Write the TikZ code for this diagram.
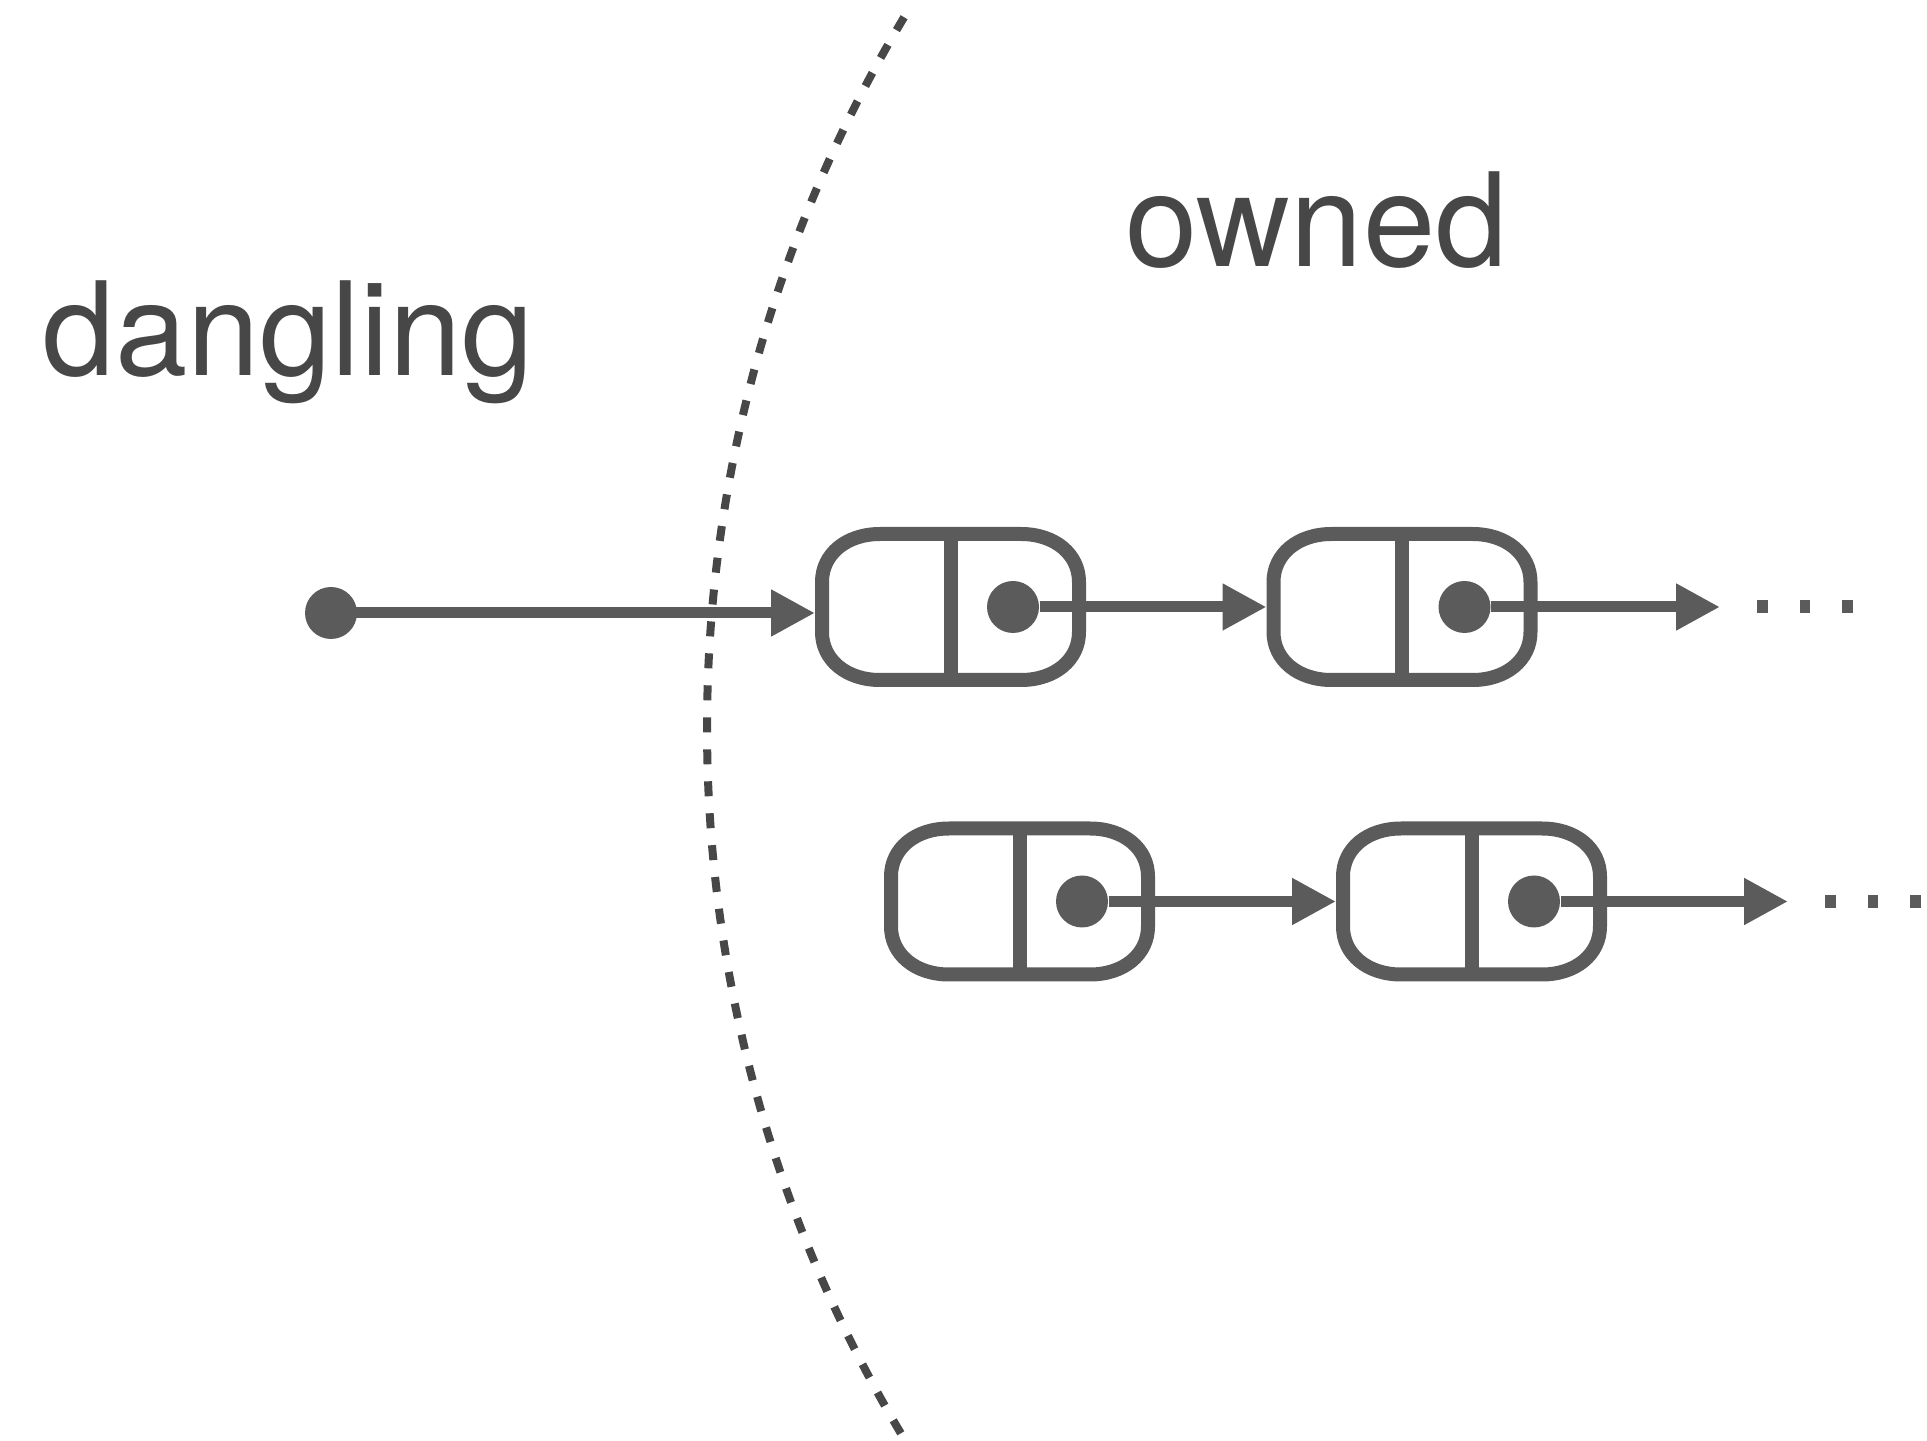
\documentclass[tikz,border=0pt]{standalone}
\usepackage{fontspec}
\setmainfont{TeX Gyre Heros}
\usetikzlibrary{arrows.meta,calc}

\definecolor{linegray}{HTML}{5B5B5B}
\definecolor{inkgray}{HTML}{474747}

\begin{document}
\begin{tikzpicture}[
    cell/.style={minimum width=2.57cm, minimum height=1.46cm, inner sep=0pt,
        outer sep=0.07cm},
    border/.style={draw=linegray, line width=0.14cm},
    ptr/.style={circle, fill=linegray, minimum size=0.52cm, inner sep=0pt},
    link/.style={draw=linegray, line width=0.11cm,
        -{Triangle[length=0.44cm, width=0.44cm]}},
    word/.style={text=inkgray, inner sep=0pt, anchor=base west,
        font=\fontsize{37pt}{44pt}\selectfont},
    boundary/.style={draw=inkgray, line width=0.08cm,
        dash pattern=on 0.15cm off 0.17cm}
]
    \useasboundingbox (0,0) rectangle (19.27,-14.41);

    % Labels on both sides
    \node[word] (dangling) at (0.42,-3.76) {dangling};
    \node[word] (owned) at (11.25,-2.67) {owned};

    % Two linked lists
    \node[cell] (c1) at (9.505,-6.07) {};
    \node[cell] (c2) at (14.02,-6.07) {};
    \node[cell] (c3) at (10.195,-9.015) {};
    \node[cell] (c4) at (14.715,-9.015) {};

    % Soft-cornered outline, split in two, next-pointer in the right half
    \foreach \c in {c1,c2,c3,c4} {
        \begin{scope}[shift={(\c.center)}]
            \draw[border] (-1.285,0) -- (-1.285,0.25)
                .. controls (-1.285,0.53) and (-1.041,0.73) .. (-0.705,0.73)
                -- (0.705,0.73)
                .. controls (1.041,0.73) and (1.285,0.53) .. (1.285,0.25)
                -- (1.285,-0.25)
                .. controls (1.285,-0.53) and (1.041,-0.73) .. (0.705,-0.73)
                -- (-0.705,-0.73)
                .. controls (-1.041,-0.73) and (-1.285,-0.53) .. (-1.285,-0.25)
                -- cycle;
            \draw[border] (0,0.73) -- (0,-0.73);
        \end{scope}
        \node[ptr] (p\c) at ([xshift=0.625cm]\c.center) {};
    }

    % Pointer from outside into the first list
    \node[ptr] (head) at (3.31,-6.13) {};
    \draw[link] (head.center) -- (head -| c1.west);

    % Next-pointers
    \coordinate (e2) at (17.20,-6.07);
    \coordinate (e4) at (17.88,-9.015);
    \draw[link] (pc1) -- (c2.west);
    \draw[link] (pc2) -- (e2);
    \draw[link] (pc3) -- (c4.west);
    \draw[link] (pc4) -- (e4);

    % Three dots after each list
    \foreach \e in {e2,e4}
        \foreach \k in {0,1,2}
            \fill[linegray] ($(\e)+(0.37+0.425*\k,-0.065)$) rectangle ++(0.105,0.13);

    % Dotted border between the two regions
    \coordinate (arcc) at (20.87,-7.28);
    \draw[boundary] (arcc) ++(149:13.8) arc[start angle=149, end angle=211, radius=13.8];
\end{tikzpicture}
\end{document}
